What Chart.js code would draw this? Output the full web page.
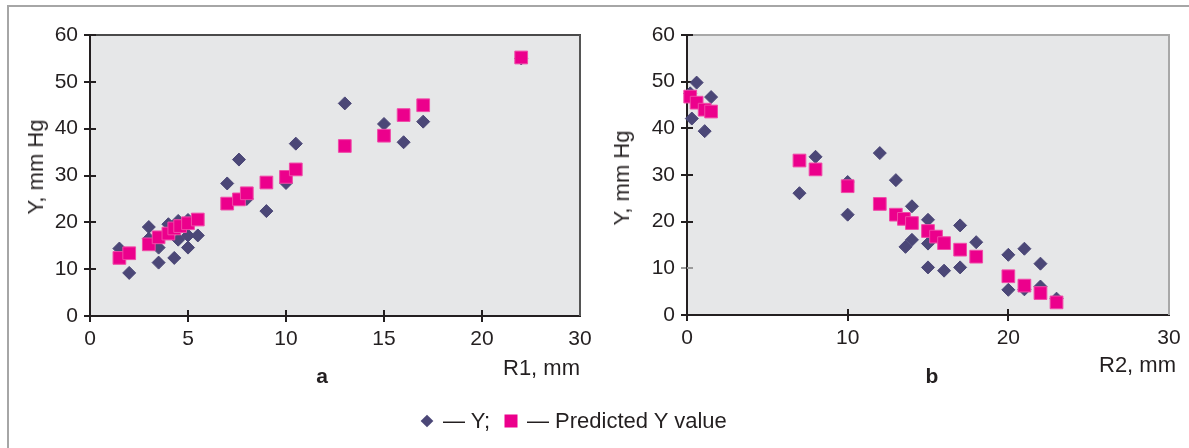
<!DOCTYPE html>
<html><head><meta charset="utf-8">
<script src="https://cdn.jsdelivr.net/npm/chart.js@4"></script>
<style>
body{margin:0;width:1189px;height:448px;overflow:hidden;background:#fff;position:relative;font-family:"Liberation Sans",Arial,sans-serif;color:#231f20}
#frame{position:absolute;left:7px;top:5px;width:1300px;height:600px;border-left:2px solid #a6a6a6;border-top:2px solid #a6a6a6}
canvas{position:absolute;top:0}
#ca{left:0}
#cb{left:600px}
.lbl{position:absolute;font-size:22px;white-space:nowrap;line-height:1}
.c{transform:translate(-50%,-50%)}
.r{transform:translate(-100%,-50%)}
.rot{transform:translate(-50%,-50%) rotate(-90deg)}
.b{font-weight:bold;font-size:21px}
.dia{position:absolute;width:9px;height:9px;background:#4b4777;transform:translate(-50%,-50%) rotate(45deg)}
.sq{position:absolute;width:13px;height:13px;background:#ec008c;transform:translate(-50%,-50%)}
</style></head>
<body>
<div id="frame"></div>
<canvas id="ca" width="600" height="448"></canvas>
<canvas id="cb" width="589" height="448"></canvas>
<div class="lbl rot" style="left:36px;top:167px">Y, mm Hg</div>
<div class="lbl rot" style="left:622px;top:178px">Y, mm Hg</div>
<div class="lbl r" style="left:580px;top:368px">R1, mm</div>
<div class="lbl r" style="left:1176px;top:365px">R2, mm</div>
<div class="lbl c b" style="left:322px;top:375px">a</div>
<div class="lbl c b" style="left:932px;top:375px">b</div>
<div class="dia" style="left:427px;top:421px"></div>
<div class="lbl" style="left:443px;top:421px;transform:translateY(-50%)">— Y;</div>
<div class="sq" style="left:511px;top:421px"></div>
<div class="lbl" style="left:527px;top:421px;transform:translateY(-50%)">— Predicted Y value</div>
<script>
// ---- data: chart a (R1) ----
const r1Measured = [1.5, 2, 3, 3, 3.5, 3.5, 4, 4.5, 4.5, 4.3, 5, 5, 5, 5.5, 7, 7.6, 8, 9, 10, 10.5, 13, 15, 16, 17, 22];
const yMeasuredA = [14.4, 9.2, 19.0, 16.5, 14.6, 11.4, 19.6, 20.3, 16.3, 12.4, 20.5, 17.2, 14.6, 17.2, 28.3, 33.4, 25.0, 22.4, 28.4, 36.8, 45.4, 41.0, 37.1, 41.5, 55.0];
const r1Predicted = [1.5, 2, 3, 3.5, 4, 4.3, 4.6, 5, 5.5, 7, 7.6, 8, 9, 10, 10.5, 13, 15, 16, 17, 22];
const yPredictedA = [12.4, 13.4, 15.3, 16.8, 17.6, 18.7, 19.2, 19.8, 20.6, 24.0, 24.9, 26.2, 28.5, 29.7, 31.3, 36.3, 38.5, 42.9, 45.0, 55.2];
// ---- data: chart b (R2) ----
const r2Measured = [0.6, 1.5, 0.3, 1.1, 0.2, 7, 8, 10, 10, 12, 13, 14, 14, 13.6, 15, 15, 15, 16, 17, 17, 18, 20, 20, 21, 21, 22, 22, 23];
const yMeasuredB = [49.8, 46.7, 42.1, 39.4, 47.5, 26.1, 33.9, 28.5, 21.5, 34.7, 28.9, 23.3, 16.1, 14.6, 20.4, 15.3, 10.2, 9.5, 10.2, 19.2, 15.6, 12.9, 5.4, 14.2, 5.5, 11.0, 6.1, 3.5];
const r2Predicted = [0.2, 0.6, 1.1, 1.5, 7, 8, 10, 12, 13, 13.5, 14, 15, 15.5, 16, 17, 18, 20, 21, 22, 23];
const yPredictedB = [46.8, 45.5, 44.0, 43.6, 33.1, 31.2, 27.6, 23.8, 21.5, 20.6, 19.7, 18.0, 16.8, 15.4, 14.0, 12.5, 8.3, 6.3, 4.7, 2.7];
// ---- tick labels ----
const xTickLabelsA = ['0', '5', '10', '15', '20', '30'];
const xTickLabelsB = ['0', '10', '20', '30'];
const yTickLabels = ['0', '10', '20', '30', '40', '50', '60'];

const INK = '#231f20';
const toPts = (xs, ys) => xs.map((x, i) => ({x, y: ys[i]}));

const plotFrame = {
  id: 'plotFrame',
  beforeDraw(chart, args, o) {
    const {ctx, chartArea: a} = chart;
    ctx.save();
    ctx.fillStyle = o.bg;
    ctx.fillRect(a.left, a.top, a.right - a.left, a.bottom - a.top);
    ctx.restore();
  },
  beforeDatasetsDraw(chart, args, o) {
    const {ctx, chartArea: a} = chart;
    const xs = chart.scales.x, ys = chart.scales.y;
    ctx.save();
    ctx.lineWidth = 2;
    ctx.strokeStyle = o.topColor;
    ctx.beginPath(); ctx.moveTo(a.left, a.top); ctx.lineTo(a.right + 1, a.top); ctx.stroke();
    ctx.strokeStyle = o.rightColor;
    ctx.beginPath(); ctx.moveTo(a.right, a.top); ctx.lineTo(a.right, a.bottom); ctx.stroke();
    ctx.strokeStyle = INK;
    xs.ticks.forEach(t => {
      if (t.value === xs.max || t.value === xs.min) return;
      const px = Math.round(xs.getPixelForValue(t.value));
      ctx.beginPath(); ctx.moveTo(px, a.bottom); ctx.lineTo(px, a.bottom - 6); ctx.stroke();
    });
    ys.ticks.forEach(t => {
      if (t.value === ys.min) return;
      const py = Math.round(ys.getPixelForValue(t.value));
      ctx.strokeStyle = (o.grayY === t.value) ? '#9a9a9a' : INK;
      ctx.beginPath(); ctx.moveTo(a.left, py); ctx.lineTo(a.left + 6, py); ctx.stroke();
    });
    ctx.restore();
  }
};

function makeChart(id, cfg) {
  const font = {family: '"Liberation Sans", Arial, sans-serif', size: 21};
  return new Chart(document.getElementById(id), {
    type: 'scatter',
    data: {
      datasets: [
        {label: 'Y', data: toPts(cfg.mx, cfg.my), pointStyle: 'rectRot', pointRadius: 6.5, pointHoverRadius: 6.5,
         backgroundColor: '#4b4777', borderColor: '#4b4777', borderWidth: 1, order: 1, clip: false},
        {label: 'Predicted Y value', data: toPts(cfg.px, cfg.py), pointStyle: 'rect', pointRadius: 9, pointHoverRadius: 9,
         backgroundColor: '#ec008c', borderColor: '#f04aa8', borderWidth: 1, order: 0, clip: false}
      ]
    },
    options: {
      responsive: false,
      animation: false,
      events: [],
      layout: {padding: {top: 35, right: cfg.padRight, left: 0, bottom: 0}},
      plugins: {
        legend: {display: false},
        tooltip: {enabled: false},
        plotFrame: {bg: '#e6e7e8', topColor: cfg.topColor, rightColor: cfg.rightColor, grayY: cfg.grayY}
      },
      scales: {
        x: {
          type: 'linear', min: 0, max: cfg.xMax,
          afterFit: s => { s.height = 448 - cfg.bottom; },
          ticks: {stepSize: cfg.xStep, font, color: INK, padding: 5, maxRotation: 0,
                  callback: (v, i) => cfg.xLabels[i]},
          grid: {drawOnChartArea: false, drawTicks: true, tickLength: 6, lineWidth: 2,
                 color: c => (c.tick && c.tick.value === cfg.xMax) ? 'rgba(0,0,0,0)' : INK},
          border: {display: true, color: INK, width: 2}
        },
        y: {
          type: 'linear', min: 0, max: 60,
          afterFit: s => { s.width = cfg.yWidth; },
          ticks: {stepSize: 10, font, color: INK, padding: 6, callback: (v, i) => yTickLabels[i]},
          grid: {drawOnChartArea: false, drawTicks: true, tickLength: 6, lineWidth: 2,
                 color: c => (c.tick && c.tick.value === cfg.grayY) ? '#9a9a9a' : INK},
          border: {display: true, color: INK, width: 2}
        }
      }
    },
    plugins: [plotFrame]
  });
}

makeChart('ca', {mx: r1Measured, my: yMeasuredA, px: r1Predicted, py: yPredictedA,
  xMax: 25, xStep: 5, xLabels: xTickLabelsA, yWidth: 90, padRight: 20, bottom: 316,
  topColor: '#4a4a4a', rightColor: '#555555', grayY: null});
makeChart('cb', {mx: r2Measured, my: yMeasuredB, px: r2Predicted, py: yPredictedB,
  xMax: 30, xStep: 10, xLabels: xTickLabelsB, yWidth: 87, padRight: 20, bottom: 315,
  topColor: '#a8a8a8', rightColor: '#a8a8a8', grayY: 10});
</script>
</body></html>
